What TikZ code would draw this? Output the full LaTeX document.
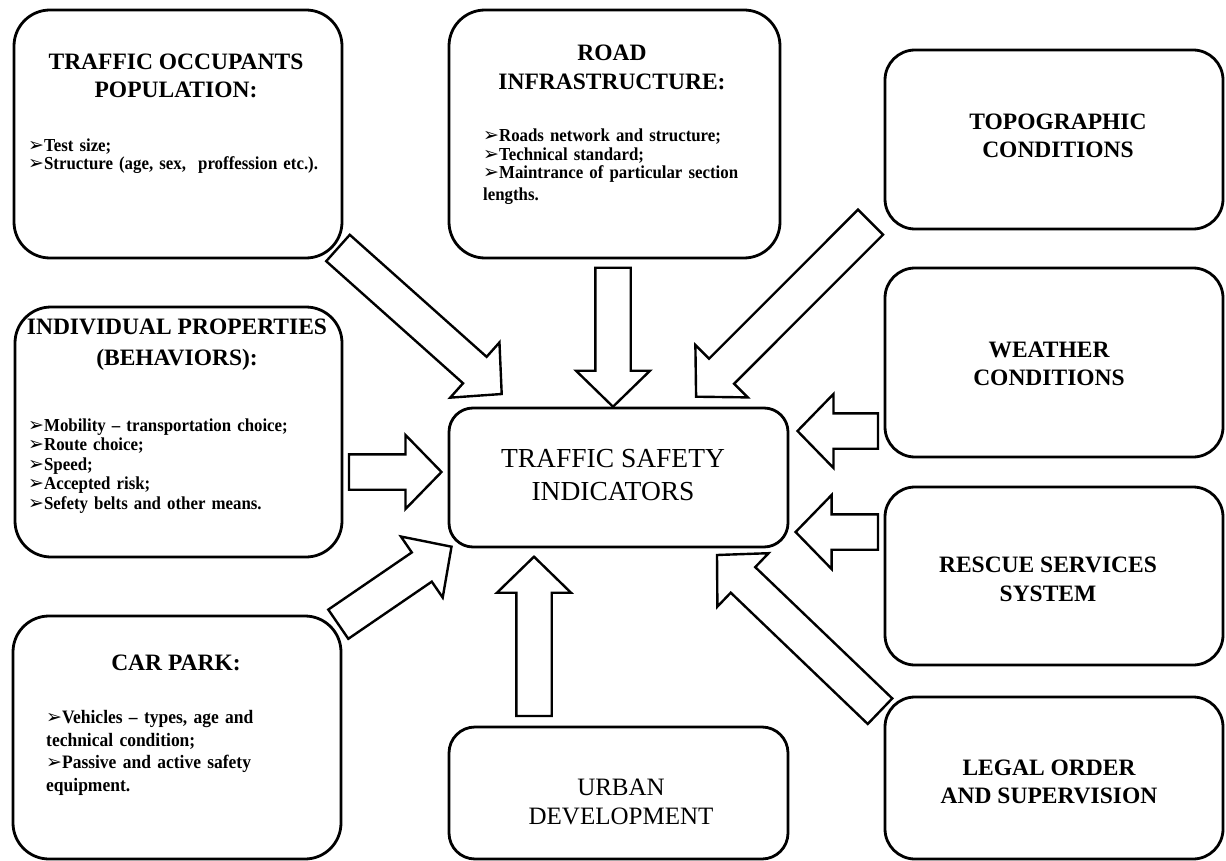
\documentclass[tikz,border=0pt]{standalone}
\usepackage{fontspec}
\setmainfont{Liberation Serif}
\newfontfamily\bodyfont[FakeStretch=0.92]{Liberation Serif}
\newfontfamily\symfont{DejaVu Sans}
\usetikzlibrary{calc}
\newcommand\bul{{\symfont\fontsize{19}{15}\selectfont ➢}}
\def\asw{17.7pt}\def\ahw{37pt}\def\ahl{36pt}
\newcommand\blockarrow[2]{%
  \draw[barrow] ($(#1)!\asw!90:(#2)$) -- ($(#2)!\ahl!(#1)!\asw!-90:(#1)$)
    -- ($(#2)!\ahl!(#1)!\ahw!-90:(#1)$) -- (#2)
    -- ($(#2)!\ahl!(#1)!\ahw!90:(#1)$) -- ($(#2)!\ahl!(#1)!\asw!90:(#1)$)
    -- ($(#1)!\asw!-90:(#2)$) -- cycle;}
\tikzset{
  rbox/.style={draw, line width=2.8pt, rounded corners=#1},
  ttl/.style={align=center, inner sep=0pt, font=\bfseries\fontsize{23.5}{28.5}\selectfont},
  lst/.style={anchor=base west, inner sep=0pt, text width=400pt, align=left,
    font=\bodyfont\bfseries\fontsize{18.3}{#1}\selectfont},
  barrow/.style={draw, line width=2.4pt, fill=white, line join=miter},
}
\begin{document}
\begin{tikzpicture}[x=1pt,y=-1pt]
\useasboundingbox[fill=white] (0,0) rectangle (1226,861);

% boxes
\node[rbox=36pt, minimum width=328pt, minimum height=248pt] (occ) at (178,134) {};
\node[rbox=36pt, minimum width=331pt, minimum height=248pt] (road) at (614.5,134) {};
\node[rbox=30pt, minimum width=338pt, minimum height=179pt] (topo) at (1054,139.5) {};
\node[rbox=36pt, minimum width=327pt, minimum height=250pt] (indiv) at (178.5,432) {};
\node[rbox=30pt, minimum width=338pt, minimum height=189pt] (weather) at (1054,362.5) {};
\node[rbox=24pt, minimum width=339pt, minimum height=139pt] (center) at (618.5,477.5) {};
\node[rbox=30pt, minimum width=338pt, minimum height=178pt] (rescue) at (1054,576) {};
\node[rbox=36pt, minimum width=328pt, minimum height=243pt] (car) at (177,737.5) {};
\node[rbox=26pt, minimum width=339pt, minimum height=132pt] (urban) at (618.5,793) {};
\node[rbox=30pt, minimum width=338pt, minimum height=162pt] (legal) at (1054,778) {};

% titles
\node[ttl] (occT) at (176,76) {TRAFFIC OCCUPANTS\\POPULATION:};
\node[ttl] (roadT) at (612,67.5) {ROAD\\INFRASTRUCTURE:};
\node[ttl, font=\bfseries\fontsize{23.5}{31}\selectfont] (indivT) at (177,344.5) {INDIVIDUAL PROPERTIES\\(BEHAVIORS):};
\node[ttl] (carT) at (176,663) {CAR PARK:};
\node[ttl] (topoT) at (1058,136) {TOPOGRAPHIC\\CONDITIONS};
\node[ttl] (weatherT) at (1049,364) {WEATHER\\CONDITIONS};
\node[ttl] (rescueT) at (1048,579.5) {RESCUE SERVICES\\SYSTEM};
\node[ttl] (legalT) at (1049,782) {LEGAL ORDER\\AND SUPERVISION};
\node[align=center, inner sep=0pt, font=\fontsize{27.5}{33}\selectfont] (centerT) at (613,475.5) {TRAFFIC SAFETY\\INDICATORS};
\node[align=center, inner sep=0pt, font=\fontsize{25}{29}\selectfont] (urbanT) at (621,801.5) {URBAN\\DEVELOPMENT};

% lists
\node[lst=17.3pt] (occL) at (28,152) {\bul Test size;\\\bul Structure (age, sex, \ proffession etc.).};
\node[lst=18.3pt] (roadL) at (483,142) {\bul Roads network and structure;\\\bul Technical standard;\\\bul Maintrance of particular section\\[3.4pt]lengths.};
\node[lst=19.5pt] (indivL) at (28,431) {\bul Mobility – transportation choice;\\\bul Route choice;\\\bul Speed;\\\bul Accepted risk;\\\bul Sefety belts and other means.};
\node[lst=22.7pt, font=\bodyfont\bfseries\fontsize{19}{22.7}\selectfont] (carL) at (46,723.5) {\bul Vehicles – types, age and\\technical condition;\\\bul Passive and active safety\\equipment.};

% block arrows
\coordinate (aT) at (338,248);   \coordinate (aH) at (501.7,394);
\coordinate (bT) at (613,267.7); \coordinate (bH) at (613,406.7);
\coordinate (cT) at (870.5,222.2); \coordinate (cH) at (696.1,396.7);
\coordinate (dT) at (878,431);   \coordinate (dH) at (797.5,431);
\coordinate (eT) at (878,532);   \coordinate (eH) at (795.6,532);
\coordinate (fT) at (349,472);   \coordinate (fH) at (441.5,472);
\coordinate (gT) at (338.3,624.2); \coordinate (gH) at (451.5,546.7);
\coordinate (hT) at (534,716);   \coordinate (hH) at (534,556.7);
\coordinate (iT) at (880,711.2); \coordinate (iH) at (717,555);
\blockarrow{aT}{aH}
\blockarrow{bT}{bH}
\blockarrow{cT}{cH}
\blockarrow{dT}{dH}
\blockarrow{eT}{eH}
\blockarrow{fT}{fH}
\blockarrow{gT}{gH}
\blockarrow{hT}{hH}
\blockarrow{iT}{iH}
\end{tikzpicture}
\end{document}
